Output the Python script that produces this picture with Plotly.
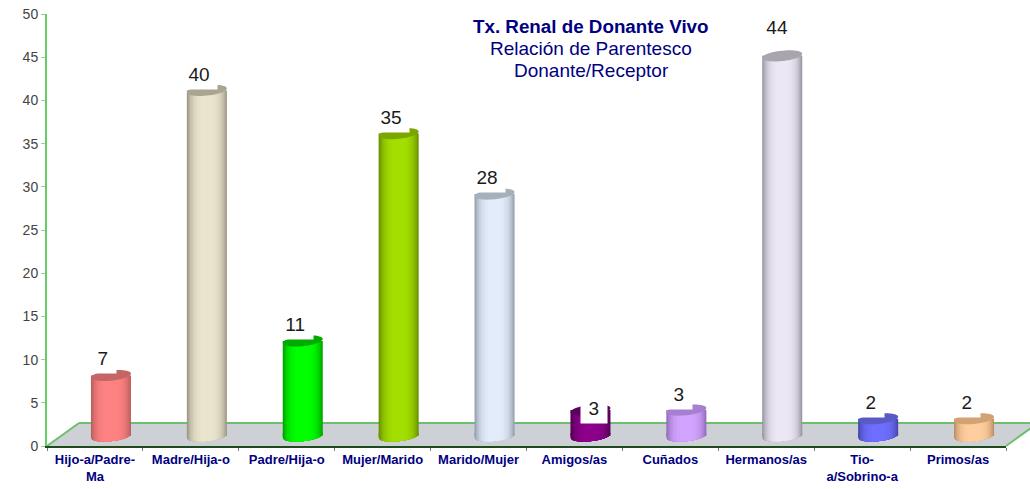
import plotly.graph_objects as go
import math

categories = ["Hijo-a/Padre-<br>Ma", "Madre/Hija-o", "Padre/Hija-o", "Mujer/Marido", "Marido/Mujer",
              "Amigos/as", "Cuñados", "Hermanos/as", "Tio-<br>a/Sobrino-a", "Primos/as"]
values = [7, 40, 11, 35, 28, 3, 3, 44, 2, 2]
title_lines = ["<b>Tx. Renal de Donante Vivo</b>", "Relación de Parentesco", "Donante/Receptor"]

# styling (not data)
centre_colors = ["#FF8282", "#EAE4CE", "#00FF00", "#A2DE00", "#E2ECFA", "#8C008C", "#D2A4FF", "#ECE7F4", "#6E6EFF", "#FFCE9E"]
edge_colors = ["#B85C5C", "#9A9582", "#00A000", "#668C00", "#929CAA", "#500050", "#9069B8", "#96929E", "#4646A8", "#B88E64"]
cap_colors = ["#C46666", "#A9A590", "#00AA00", "#7BA600", "#A6B0BA", "#5E005E", "#A67ED2", "#A8A5AE", "#5A5AC6", "#D2A272"]
label_dx = [8.5, 8.6, 8.6, 8.7, 8.7, 20, 9, 11, 9, 9]
label_dy = [27, 26, 26, 26.5, 27, 12, 26, 38, 26.5, 26.5]

W, H = 1030, 489
L, R, T, B = 47, 24, 14, 43
plot_w, plot_h = W - L - R, H - T - B
px_x = 10 / plot_w      # categories per pixel
px_y = 50 / plot_h      # value units per pixel
paper_dx, paper_dy = 32 / plot_w, 23 / plot_h
shift_x = 16 * px_x     # bars stand in the middle of the floor's depth
base = 10 * px_y
half_px = 20
cap_b = 5.2
tilt = 0.1


def hex2rgb(c):
    return [int(c[i:i + 2], 16) for i in (1, 3, 5)]


def mix(a, b, t):
    ra, rb = hex2rgb(a), hex2rgb(b)
    return "rgb(%d,%d,%d)" % tuple(round(x + (y - x) * t) for x, y in zip(ra, rb))


def poly(pts):
    return "M" + "L".join(f"{x:.4f},{y:.4f}" for x, y in pts) + "Z"


levels = [1.0, 0.96, 0.91, 0.85, 0.78, 0.70, 0.60, 0.48, 0.32]
shades = [0.0, 0.18, 0.34, 0.5, 0.64, 0.77, 0.87, 0.95, 1.0]

fig = go.Figure()
for lev, sh in zip(levels, shades):
    w = 2 * half_px * lev * px_x
    fig.add_bar(x=categories, y=values, base=base, width=w, offset=shift_x - w / 2,
                marker=dict(color=[mix(e, c, sh) for e, c in zip(edge_colors, centre_colors)], line_width=0),
                hoverinfo="skip", showlegend=False)


def ell_pt(cx, cy, dx_px, dy_px):
    return (cx + dx_px * px_x, cy + (dy_px + tilt * dx_px) * px_y)


shapes = []
# floor, drawn behind the bars
shapes.append(dict(type="path", xref="paper", yref="paper", layer="below", line_width=0, fillcolor="#CDD0D4",
                   path=poly([(0, 0), (paper_dx, paper_dy), (1 + paper_dx, paper_dy), (1, 0)])))
green = "#6CBF6C"
shapes.append(dict(type="line", xref="paper", yref="paper", layer="below", x0=paper_dx, x1=1 + paper_dx, y0=paper_dy, y1=paper_dy,
                   line=dict(color=green, width=2)))
shapes.append(dict(type="line", xref="paper", yref="paper", layer="below", x0=0, x1=paper_dx, y0=0, y1=paper_dy,
                   line=dict(color=green, width=2)))
shapes.append(dict(type="line", xref="paper", yref="paper", layer="below", x0=1, x1=1 + paper_dx, y0=0, y1=paper_dy,
                   line=dict(color=green, width=2)))

for i, v in enumerate(values):
    cx = i + shift_x
    # rounded foot of the cylinder, shaded in the same strips as the bar
    for lev, sh in zip(levels, shades):
        a = half_px * lev
        lap = base + 3 * px_y    # overlap into the bar so no gap shows under the tilt
        pts = [(cx - a * px_x, lap)]
        for k in range(25):
            dx = -a + 2 * a * k / 24
            pts.append(ell_pt(cx, base, dx, math.sqrt(max(0, 1 - (dx / half_px) ** 2)) * -cap_b))
        pts.append((cx + a * px_x, lap))
        shapes.append(dict(type="path", xref="x", yref="y", line_width=0, fillcolor=mix(edge_colors[i], centre_colors[i], sh),
                           path=poly(pts)))
    # top face
    top = base + v
    pts = []
    for k in range(48):
        t = 2 * math.pi * k / 48
        pts.append(ell_pt(cx, top, half_px * math.cos(t), cap_b * math.sin(t)))
    shapes.append(dict(type="path", xref="x", yref="y", line_width=0, fillcolor=cap_colors[i], path=poly(pts)))

annotations = []
for cat, v, dx, dy in zip(categories, values, label_dx, label_dy):
    s = str(v)
    annotations.append(dict(x=cat, y=v, xref="x", yref="y", text=s, showarrow=False, xshift=dx, yshift=dy,
                            font=dict(family="Liberation Sans", size=19, color="#1A1A1A"),
                            bgcolor="white", width=len(s) * 10.6 + 13, height=27, align="center", valign="middle"))
for line, py, size in zip(title_lines, [26, 48, 71], [18.8, 19, 19]):
    annotations.append(dict(x=(591 - L) / plot_w, y=(T + plot_h - py) / plot_h, xref="paper", yref="paper", text=line, showarrow=False,
                            xanchor="center", yanchor="middle",
                            font=dict(family="Liberation Sans", size=size, color="#000080")))

fig.update_layout(
    width=W, height=H, margin=dict(l=L, r=R, t=T, b=B), plot_bgcolor="white", paper_bgcolor="white",
    barmode="overlay", showlegend=False, shapes=shapes, annotations=annotations,
    xaxis=dict(type="category", categoryorder="array", categoryarray=categories, range=[-0.5, 9.5], automargin=False,
               tickson="boundaries", ticks="outside", ticklen=3, tickcolor="#777777", tickwidth=1,
               showline=True, linecolor="#1E4A1E", linewidth=2, showgrid=False, tickangle=0,
               tickfont=dict(family="Liberation Sans", size=13, color="#000080", weight="bold")),
    yaxis=dict(range=[0, 50], tickvals=list(range(0, 51, 5)), ticks="outside", ticklen=4, tickcolor="#9AD09A", tickwidth=1,
               showline=True, linecolor="#66CC66", linewidth=2, showgrid=False, zeroline=False, automargin=False,
               tickfont=dict(family="Liberation Sans", size=14, color="#444444")),
)
fig.write_html("out.html", config=dict(displayModeBar=False), post_script="document.body.style.margin='0';")
